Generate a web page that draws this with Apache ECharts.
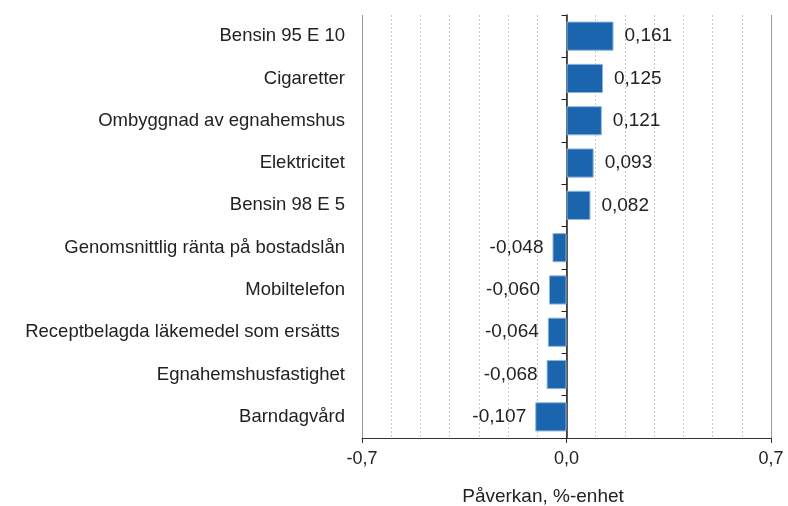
<!DOCTYPE html>
<html>
<head>
<meta charset="utf-8">
<script src="https://cdn.jsdelivr.net/npm/echarts@6/dist/echarts.min.js"></script>
<style>
html,body{margin:0;padding:0;background:#fff;}
#chart{width:788px;height:506px;}
</style>
</head>
<body>
<div id="chart"></div>
<script>
const categories = [
  "Bensin 95 E 10",
  "Cigaretter",
  "Ombyggnad av egnahemshus",
  "Elektricitet",
  "Bensin 98 E 5",
  "Genomsnittlig ränta på bostadslån",
  "Mobiltelefon",
  "Receptbelagda läkemedel som ersätts ",
  "Egnahemshusfastighet",
  "Barndagvård"
];
const values = [0.161, 0.125, 0.121, 0.093, 0.082, -0.048, -0.060, -0.064, -0.068, -0.107];
const xTicks = [-0.7, 0.0, 0.7];
const axisTitle = "Påverkan, %-enhet";

const FONT = "'Liberation Sans', Arial, sans-serif";
const fmt = v => v.toFixed(3).replace('.', ',');
const chart = echarts.init(document.getElementById('chart'), null, {renderer: 'canvas'});
chart.setOption({
  animation: false,
  backgroundColor: '#fff',
  grid: {left: 362, right: 17, top: 15, bottom: 68, containLabel: false},
  xAxis: {
    type: 'value',
    min: xTicks[0],
    max: xTicks[xTicks.length - 1],
    interval: xTicks[1] - xTicks[0],
    axisLine: {show: true, lineStyle: {color: '#333', width: 1}},
    axisTick: {show: true, length: 5, lineStyle: {color: '#333'}},
    axisLabel: {
      margin: 12,
      color: '#222',
      fontFamily: FONT,
      fontSize: 18,
      formatter: v => (Math.abs(v) < 1e-9 ? 0 : v).toFixed(1).replace('.', ',')
    },
    splitLine: {show: true, lineStyle: {color: '#999', width: 1}},
    minorTick: {show: false, splitNumber: 7},
    minorSplitLine: {show: true, lineStyle: {color: '#c8c8c8', type: [2, 2], width: 1}}
  },
  yAxis: [
    {
      type: 'category',
      data: categories,
      inverse: true,
      position: 'left',
      axisLine: {show: false, onZero: false},
      axisTick: {show: false},
      axisLabel: {margin: 17, color: '#222', fontFamily: FONT, fontSize: 18.5}
    },
    {
      type: 'category',
      data: categories,
      inverse: true,
      position: 'left',
      axisLine: {show: true, onZero: true, lineStyle: {color: '#222', width: 1.5}},
      axisTick: {show: true, length: 5, lineStyle: {color: '#222'}},
      axisLabel: {show: false}
    }
  ],
  series: [{
    type: 'bar',
    yAxisIndex: 0,
    data: values.map(v => ({
      value: v,
      label: {position: v < 0 ? 'left' : 'right', distance: v < 0 ? 9 : 11}
    })),
    barCategoryGap: '31%',
    itemStyle: {color: '#1a65ae', borderColor: '#8fb5de', borderWidth: 1},
    label: {
      show: true,
      color: '#222',
      fontFamily: FONT,
      fontSize: 19,
      formatter: p => fmt(p.value)
    }
  }],
  graphic: [{
    type: 'text',
    x: 543,
    y: 497,
    style: {text: axisTitle, fill: '#222', font: '19px ' + FONT, textAlign: 'center', textVerticalAlign: 'middle'}
  }]
});
</script>
</body>
</html>
